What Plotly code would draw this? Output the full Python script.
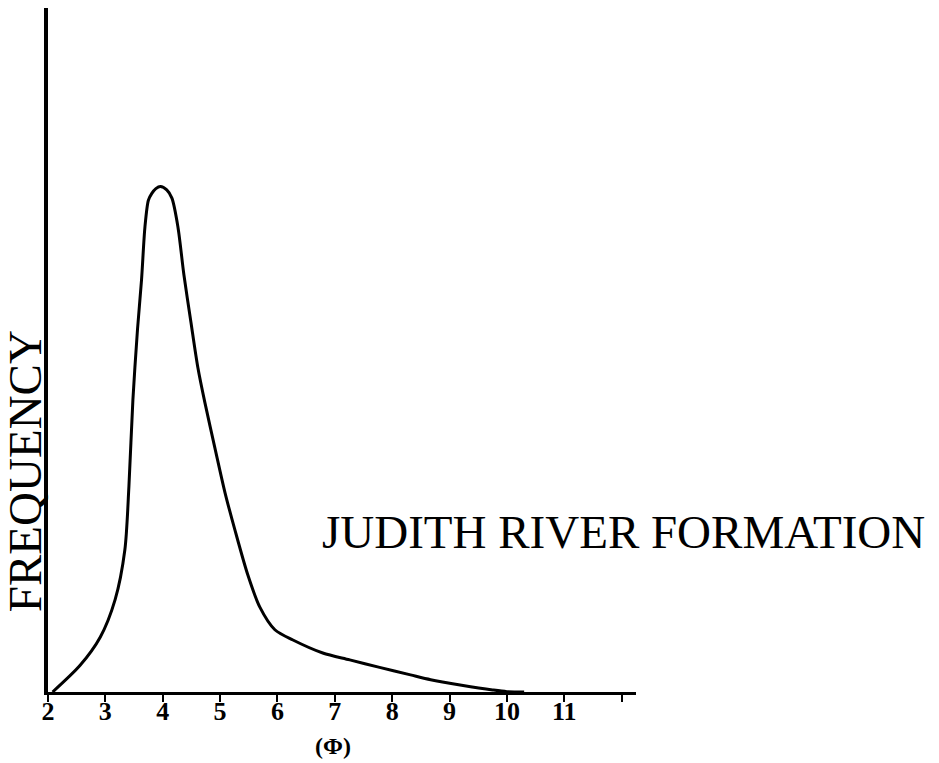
import plotly.graph_objects as go

# Grain size (phi units) and relative frequency
phi = [2.08, 2.56, 2.91, 3.17, 3.34, 3.41, 3.48, 3.56, 3.63, 3.69, 3.75, 3.81,
       3.88, 3.96, 4.07, 4.16, 4.265, 4.369, 4.491, 4.613, 4.735, 4.909, 5.084,
       5.258, 5.484, 5.693, 5.955, 6.27, 6.79, 7.26, 7.78, 8.32, 8.67, 9.21,
       9.75, 10.0, 10.3]
freq = [0, 3.9, 8.0, 13.5, 20.8, 30.0, 42.7, 53.0, 60.2, 68.0, 71.9, 72.9,
        73.6, 73.9, 73.4, 72.2, 68.0, 61.0, 54.1, 47.4, 42.3, 35.7, 29.2,
        23.7, 17.1, 12.4, 9.1, 7.6, 5.7, 4.7, 3.6, 2.5, 1.8, 1.0,
        0.3, 0.05, 0]

tick_vals = [2, 3, 4, 5, 6, 7, 8, 9, 10, 11, 12]
tick_text = ["2", "3", "4", "5", "6", "7", "8", "9", "10", "11", ""]

fig = go.Figure()
fig.add_trace(go.Scatter(
    x=phi, y=freq, mode="lines",
    line=dict(color="black", width=3, shape="spline", smoothing=0.8),
    hoverinfo="skip", showlegend=False,
))

serif = "Liberation Serif, Times New Roman, serif"

fig.update_layout(
    width=939, height=763,
    margin=dict(l=48, r=303, t=8, b=71),
    paper_bgcolor="white", plot_bgcolor="white",
    xaxis=dict(
        range=[2, 12.25], showgrid=False, zeroline=False,
        showline=True, linecolor="black", linewidth=3,
        ticks="outside", ticklen=7, tickwidth=2, tickcolor="black",
        tickvals=tick_vals, ticktext=tick_text,
        ticklabelstandoff=-13,
        tickfont=dict(family=serif, size=26, color="black", weight="bold"),
    ),
    yaxis=dict(
        range=[0, 100], showgrid=False, zeroline=False,
        showline=True, linecolor="black", linewidth=4,
        showticklabels=False, ticks="",
    ),
    annotations=[
        dict(text="FREQUENCY", textangle=-90, xref="paper", yref="paper",
             x=-0.039, y=0.323, xanchor="center", yanchor="middle",
             showarrow=False,
             font=dict(family=serif, size=47, color="black")),
        dict(text="JUDITH RIVER FORMATION", xref="paper", yref="paper",
             x=0.978, y=0.234, xanchor="center", yanchor="middle",
             showarrow=False,
             font=dict(family=serif, size=47, color="black")),
        dict(text="<b>(Φ)</b>", xref="x", yref="paper",
             x=6.97, y=-0.079, xanchor="center", yanchor="middle",
             showarrow=False,
             font=dict(family=serif, size=24, color="black")),
    ],
)

fig.write_html("out.html")
